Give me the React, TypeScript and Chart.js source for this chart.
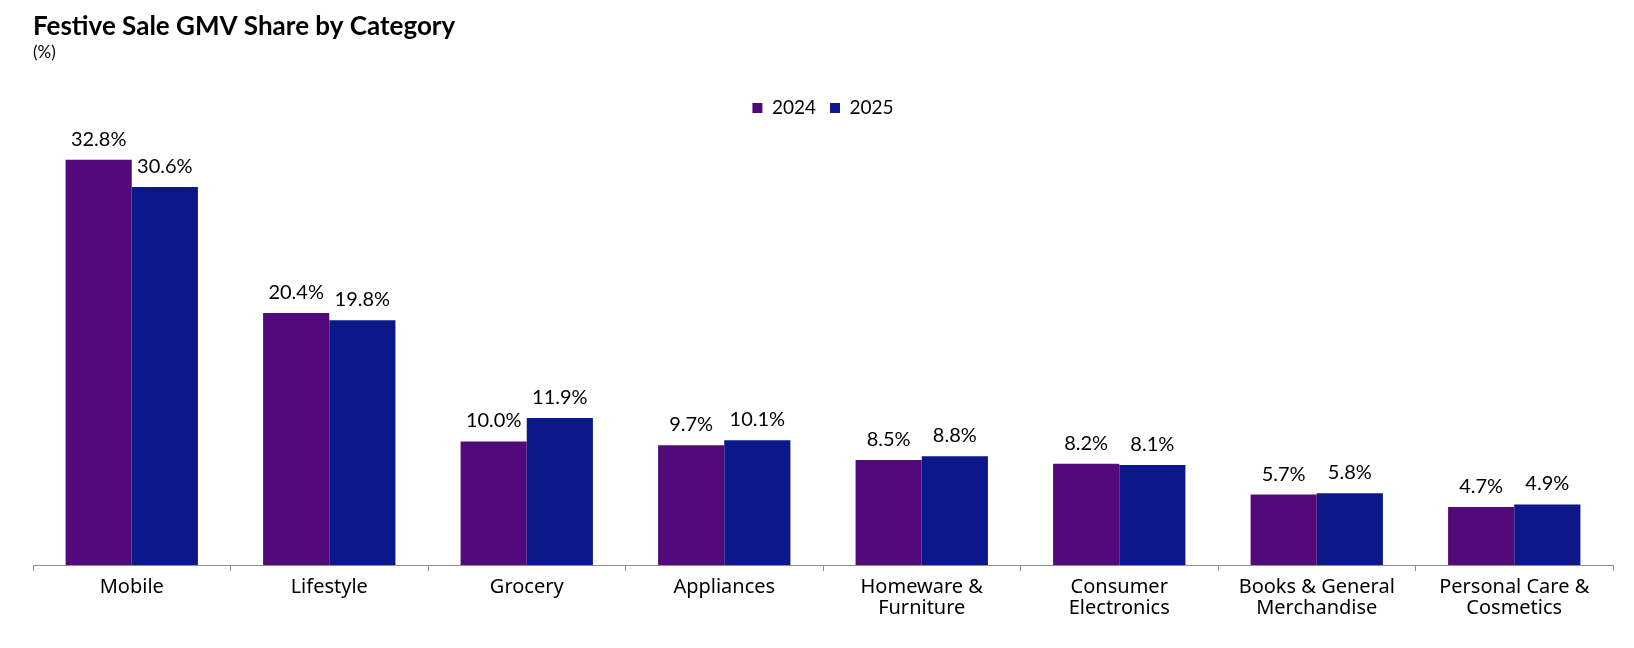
import React, { useEffect, useRef } from "react";
import { Chart, registerables } from "chart.js";

Chart.register(...registerables);

const categories: (string | string[])[] = [
  "Mobile",
  "Lifestyle",
  "Grocery",
  "Appliances",
  ["Homeware &", "Furniture"],
  ["Consumer", "Electronics"],
  ["Books & General", "Merchandise"],
  ["Personal Care &", "Cosmetics"],
];
const values2024 = [32.8, 20.4, 10.0, 9.7, 8.5, 8.2, 5.7, 4.7];
const values2025 = [30.6, 19.8, 11.9, 10.1, 8.8, 8.1, 5.8, 4.9];
const seriesLabels = ["2024", "2025"];

const FONT = "Lato, 'Noto Sans', sans-serif";
const FONT2 = "'Noto Sans', Lato, sans-serif";

const valueLabelPlugin = {
  id: "valueLabels",
  afterDatasetsDraw(chart: any) {
    const ctx = chart.ctx;
    ctx.save();
    ctx.font = `20px ${FONT}`;
    ctx.fillStyle = "#000";
    ctx.textAlign = "center";
    ctx.textBaseline = "alphabetic";
    chart.data.datasets.forEach((ds: any, i: number) => {
      const meta = chart.getDatasetMeta(i);
      meta.data.forEach((bar: any, j: number) => {
        const v = ds.data[j] as number;
        ctx.fillText(v.toFixed(1) + "%", bar.x, bar.y - 14);
      });
    });
    ctx.restore();
  },
};

export default function App() {
  const ref = useRef<HTMLCanvasElement | null>(null);
  useEffect(() => {
    document.body.style.margin = "0";
    if (!ref.current) return;
    const chart = new Chart(ref.current, {
      type: "bar",
      data: {
        labels: categories,
        datasets: [
          {
            label: seriesLabels[0],
            data: values2024,
            backgroundColor: "#520A7A",
            barPercentage: 1,
            categoryPercentage: 0.67,
          },
          {
            label: seriesLabels[1],
            data: values2025,
            backgroundColor: "#0C1889",
            barPercentage: 1,
            categoryPercentage: 0.67,
          },
        ],
      },
      options: {
        animation: false,
        responsive: false,
        maintainAspectRatio: false,
        layout: { padding: { left: 33, right: 21, top: 0, bottom: 23 } },
        plugins: {
          title: {
            display: true,
            text: "Festive Sale GMV Share by Category",
            align: "start",
            color: "#000",
            font: { family: FONT, size: 26, weight: "bold" },
            padding: { top: 11, bottom: 0 },
            fullSize: true,
          },
          subtitle: {
            display: true,
            text: "(%)",
            align: "start",
            color: "#000",
            font: { family: FONT, size: 17 },
            padding: { top: 0, bottom: 22 },
            fullSize: true,
          },
          legend: {
            display: true,
            position: "top",
            labels: {
              boxWidth: 10,
              boxHeight: 10,
              color: "#000",
              font: { family: FONT, size: 19 },
              padding: 14,
            },
          },
          tooltip: { enabled: false },
        },
        scales: {
          x: {
            grid: {
              display: true,
              drawOnChartArea: false,
              drawTicks: true,
              tickLength: 6,
              color: "#8c8c8c",
              offset: true,
            },
            border: { display: true, color: "#8c8c8c", width: 1 },
            ticks: {
              color: "#000",
              font: { family: FONT2, size: 20, lineHeight: 1.05 },
              maxRotation: 0,
              autoSkip: false,
              padding: 6,
            },
          },
          y: {
            display: false,
            min: 0,
            max: 35.4,
          },
        },
      },
      plugins: [valueLabelPlugin],
    });
    return () => chart.destroy();
  }, []);
  return (
    <div style={{ width: 1634, height: 648 }}>
      <canvas ref={ref} width={1634} height={648} style={{ width: 1634, height: 648, display: "block" }} />
    </div>
  );
}
